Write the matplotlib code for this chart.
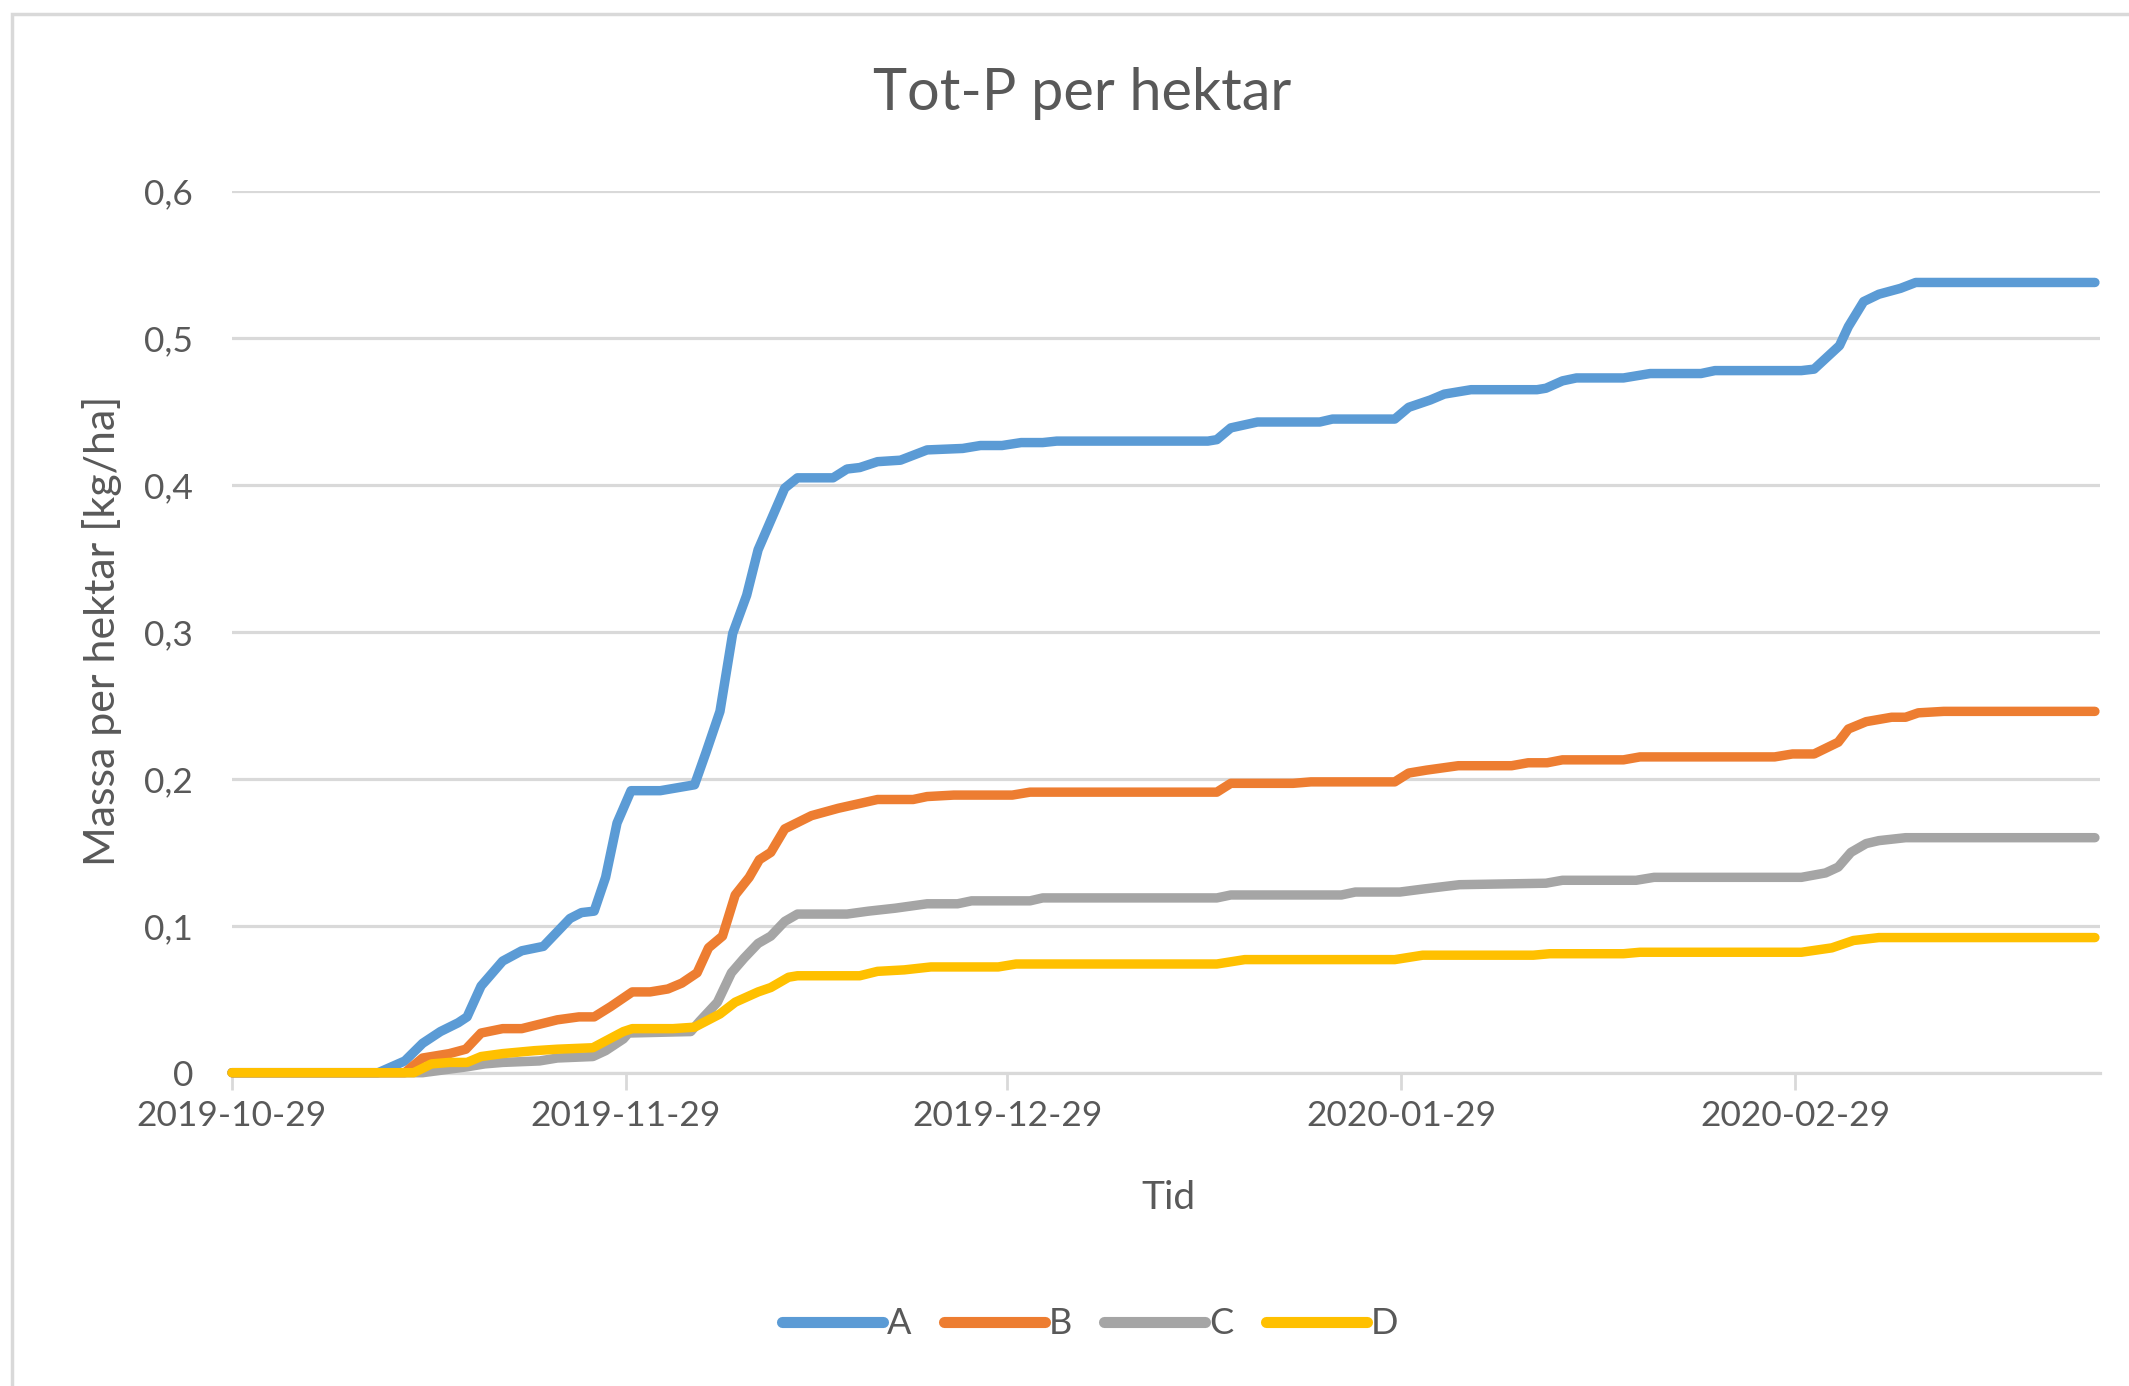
import pandas as pd
import numpy as np
import matplotlib
matplotlib.use('Agg')
import matplotlib.pyplot as plt
import matplotlib.dates as mdates
from matplotlib.ticker import FuncFormatter
from matplotlib.patches import Rectangle

plt.rcParams['font.family'] = ['Lato', 'DejaVu Sans']

start = pd.Timestamp('2019-10-29')

# days since 2019-10-29, cumulative kg/ha
a_days = [0, 11.5, 13.6, 15.0, 16.4, 17.8, 18.5, 19.6, 21.3, 22.8, 24.5, 26.6, 27.5, 28.5, 29.4, 30.3, 31.4,
          33.7, 36.4, 37.3, 38.4, 39.4, 40.5, 41.4, 42.4, 43.5, 44.5, 47.3, 48.4, 49.4, 50.8, 52.6, 54.7,
          57.5, 58.9, 60.6, 62.1, 63.8, 64.9, 76.8, 77.5, 78.6, 80.7, 85.6, 86.6, 91.5, 92.6, 94.3, 95.4,
          97.5, 102.7, 103.4, 104.7, 105.8, 109.5, 111.6, 115.6, 116.7, 123.5, 124.5, 126.5, 127.2, 128.4,
          129.6, 131.3, 132.5, 146.6]
a_vals = [0, 0, 0.008, 0.02, 0.028, 0.034, 0.038, 0.059, 0.076, 0.083, 0.086, 0.105, 0.109, 0.11, 0.133, 0.17, 0.192,
          0.192, 0.196, 0.218, 0.246, 0.299, 0.325, 0.356, 0.376, 0.398, 0.405, 0.405, 0.411, 0.412, 0.416, 0.417, 0.424,
          0.425, 0.427, 0.427, 0.429, 0.429, 0.430, 0.430, 0.431, 0.439, 0.443, 0.443, 0.445, 0.445, 0.453, 0.458, 0.462,
          0.465, 0.465, 0.466, 0.471, 0.473, 0.473, 0.476, 0.476, 0.478, 0.478, 0.479, 0.495, 0.508, 0.525,
          0.530, 0.534, 0.538, 0.538]

b_days = [0, 13.6, 15.0, 17.1, 18.4, 19.6, 21.3, 22.8, 24.2, 25.6, 27.3, 28.5, 29.8, 31.5, 32.9, 34.3, 35.4,
          36.6, 37.5, 38.6, 39.6, 40.7, 41.5, 42.4, 43.5, 45.6, 47.7, 50.8, 53.6, 54.7, 56.8, 61.4, 62.8,
          77.5, 78.6, 83.5, 84.9, 91.5, 92.6, 94.0, 96.5, 100.7, 102.0, 103.5, 104.7, 109.5, 110.8, 121.4,
          122.8, 124.5, 126.4, 127.2, 128.6, 130.6, 131.7, 132.7, 134.7, 146.6]
b_vals = [0, 0, 0.010, 0.013, 0.016, 0.027, 0.030, 0.030, 0.033, 0.036, 0.038, 0.038, 0.045, 0.055, 0.055, 0.057, 0.061,
          0.068, 0.085, 0.093, 0.121, 0.133, 0.145, 0.150, 0.166, 0.175, 0.180, 0.186, 0.186, 0.188, 0.189, 0.189, 0.191,
          0.191, 0.197, 0.197, 0.198, 0.198, 0.204, 0.206, 0.209, 0.209, 0.211, 0.211, 0.213, 0.213, 0.215, 0.215,
          0.217, 0.217, 0.225, 0.234, 0.239, 0.242, 0.242, 0.245, 0.246, 0.246]

c_days = [0, 15.0, 18.5, 19.9, 21.3, 24.2, 25.6, 28.4, 29.4, 30.8, 31.2, 36.1, 36.8, 38.2, 39.3, 40.3, 41.4,
          42.4, 43.5, 44.5, 48.4, 50.1, 52.2, 54.7, 57.1, 58.2, 62.8, 63.8, 77.5, 78.6, 87.3, 88.4, 91.9,
          93.7, 96.6, 103.4, 104.7, 110.5, 111.9, 123.5, 125.4, 126.4, 127.4, 128.6, 129.6, 131.7, 146.6]
c_vals = [0, 0, 0.004, 0.006, 0.007, 0.008, 0.010, 0.011, 0.015, 0.023, 0.027, 0.028, 0.035, 0.048, 0.068, 0.078, 0.088,
          0.093, 0.103, 0.108, 0.108, 0.110, 0.112, 0.115, 0.115, 0.117, 0.117, 0.119, 0.119, 0.121, 0.121, 0.123, 0.123,
          0.125, 0.128, 0.129, 0.131, 0.131, 0.133, 0.133, 0.136, 0.140, 0.150, 0.156, 0.158, 0.160, 0.160]

d_days = [0, 14.3, 15.7, 17.1, 18.5, 19.6, 21.3, 23.8, 25.6, 28.4, 30.8, 31.5, 34.7, 36.4, 38.4, 39.6, 41.4,
          42.4, 43.8, 44.5, 49.4, 50.8, 52.9, 55.0, 60.3, 61.7, 77.5, 79.7, 91.5, 93.7, 102.4, 103.7, 109.5,
          110.8, 123.5, 125.9, 127.6, 129.6, 146.6]
d_vals = [0, 0, 0.006, 0.007, 0.007, 0.011, 0.013, 0.015, 0.016, 0.017, 0.028, 0.030, 0.030, 0.031, 0.040, 0.048, 0.055,
          0.058, 0.065, 0.066, 0.066, 0.069, 0.070, 0.072, 0.072, 0.074, 0.074, 0.077, 0.077, 0.080, 0.080, 0.081, 0.081,
          0.082, 0.082, 0.085, 0.090, 0.092, 0.092]

names = ['A', 'B', 'C', 'D']
colors = ['#5B9BD5', '#ED7D31', '#A5A5A5', '#FFC000']
tick_dates = ['2019-10-29', '2019-11-29', '2019-12-29', '2020-01-29', '2020-02-29']
end_day = 147

txt = '#595959'
grid = '#D9D9D9'

fig = plt.figure(figsize=(21.29, 13.86), dpi=100)
ax = fig.add_axes([232 / 2129, 1 - 1072.7 / 1386, 1868 / 2129, (1072.7 - 191.4) / 1386])

series = [(a_days, a_vals), (b_days, b_vals), (c_days, c_vals), (d_days, d_vals)]
for (days, vals), name, col in zip(series, names, colors):
    x = start + pd.to_timedelta(np.array(days), unit='D')
    ax.plot(x, vals, color=col, lw=6.8, label=name, solid_capstyle='round',
            solid_joinstyle='round', clip_on=False, zorder=3)

ax.set_xlim(start, start + pd.Timedelta(days=end_day))
ax.set_ylim(0, 0.6)
ax.set_yticks(np.arange(0, 0.61, 0.1))
ax.yaxis.set_major_formatter(FuncFormatter(lambda v, p: '0' if abs(v) < 1e-9 else f'{v:.1f}'.replace('.', ',')))
ax.set_xticks(pd.to_datetime(tick_dates))
ax.xaxis.set_major_formatter(mdates.DateFormatter('%Y-%m-%d'))

ax.grid(axis='y', color=grid, lw=2.3, zorder=0)
for s in ['top', 'right', 'left']:
    ax.spines[s].set_visible(False)
ax.spines['bottom'].set_color(grid)
ax.spines['bottom'].set_linewidth(2.3)
ax.tick_params(axis='y', length=0, pad=28, labelsize=25.5, labelcolor=txt)
ax.tick_params(axis='x', length=12, width=2, color=grid, pad=8, labelsize=25.5, labelcolor=txt)

fig.text(1082 / 2129, 1 - 93 / 1386, 'Tot-P per hektar', ha='center', va='center', fontsize=41.5, color=txt)
fig.text(102 / 2129, 1 - 631 / 1386, 'Massa per hektar [kg/ha]', rotation=90, ha='center', va='center',
         fontsize=31, color=txt)
fig.text(1168 / 2129, 1 - 1198 / 1386, 'Tid', ha='center', va='center', fontsize=28, color=txt)

leg = fig.legend(loc='center', bbox_to_anchor=(1090 / 2129, 1 - 1324 / 1386), ncol=4, frameon=False,
                 fontsize=26, handlelength=2.8, handletextpad=0.1, columnspacing=0.9)
for t in leg.get_texts():
    t.set_color(txt)
for h in leg.get_lines():
    h.set_linewidth(8)

fig.patches.append(Rectangle((12 / 2129, -0.1), 1.2, 1 - 14 / 1386 + 0.1, transform=fig.transFigure,
                             fill=False, edgecolor=grid, lw=2.5))

fig.savefig('out.png', dpi=100)
